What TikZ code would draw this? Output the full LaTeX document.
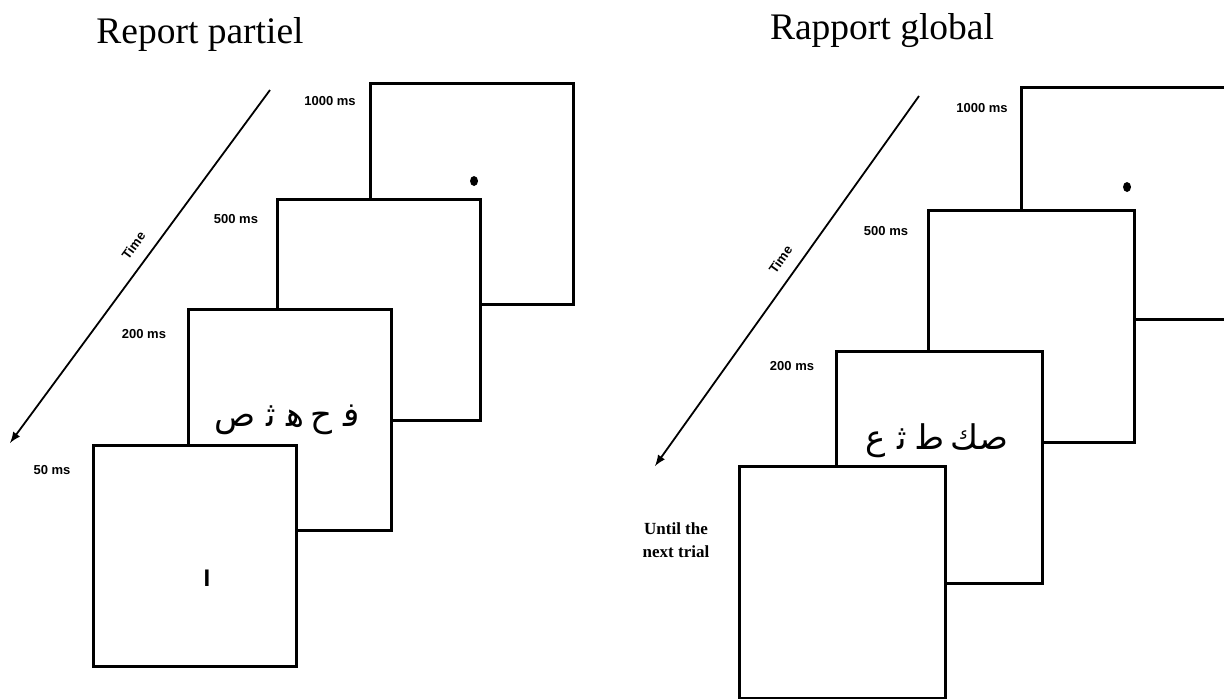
\documentclass[tikz,border=0pt]{standalone}
\usepackage{fontspec}
\setmainfont{Liberation Serif}
\setsansfont{Liberation Sans}
\newfontfamily\arabicfont[Script=Arabic]{DejaVu Sans}
\TeXXeTstate=1
\usetikzlibrary{arrows}
\usetikzlibrary{shapes.geometric}

\tikzset{
  screen/.style={draw, line width=1.5pt, fill=white, anchor=north west,
    inner sep=0pt, minimum width=101.25pt, minimum height=110.5pt},
  bigscreen/.style={screen, minimum width=103pt, minimum height=116pt},
  dur/.style={font=\sffamily\bfseries\fontsize{6.5}{8}\selectfont, inner sep=0pt},
  heading/.style={font=\fontsize{18.75}{22}\selectfont, anchor=base, inner sep=0pt},
  fixdot/.style={ellipse, fill=black, inner sep=0pt, minimum width=4pt, minimum height=5pt},
  timeaxis/.style={-latex, line width=0.9pt},
  letters/.style={font=\arabicfont\fontsize{17}{19}\selectfont, inner sep=0pt},
}
\newcommand{\zj}{^^^^200d}
\newcommand{\gap}{\hspace{3pt}}
\newcommand{\wgap}{\hspace{5.5pt}}

\begin{document}
\begin{tikzpicture}[x=0.5pt, y=-0.5pt]
            \useasboundingbox (0,0) rectangle (1224,698);
            \clip (0,0) rectangle (1224,698);
            % partial report
            \node [heading] (titleL) at (200,43) {Report partiel};
            \coordinate (tL0) at (270,90);
            \coordinate (tL1) at (10,443);
            \draw [timeaxis] (tL0) -- (tL1) node [pos=0.47, sloped, above=6pt, dur] (timeL) {Time};
            \node [screen] (scrA) at (369,82) {};
            \node [screen] (scrB) at (276,198) {};
            \node [screen] (scrC) at (187,308) {};
            \node [screen] (scrD) at (92,444) {};
            \node [fixdot] (dotL) at (474,181) {};
            \node [letters] (letL) at (287,420) {\beginR ف\zj\wgap ح\gap ه\zj\wgap ث\zj\wgap ص\endR};
            \node [font=\sffamily\bfseries\fontsize{12}{13}\selectfont, inner sep=0pt] (cueL) at (207,578) {I};
            \node [dur] (dAL) at (330,101) {1000 ms};
            \node [dur] (dBL) at (236,219) {500 ms};
            \node [dur] (dCL) at (144,334) {200 ms};
            \node [dur] (dDL) at (52,470) {50 ms};
            % global report
            \node [heading] (titleR) at (882,39) {Rapport global};
            \coordinate (tR0) at (919,96);
            \coordinate (tR1) at (655,466);
            \draw [timeaxis] (tR0) -- (tR1) node [pos=0.47, sloped, above=6pt, dur] (timeR) {Time};
            \node [bigscreen] (scrAR) at (1020,86) {};
            \node [bigscreen] (scrBR) at (927,209) {};
            \node [bigscreen] (scrCR) at (835,350) {};
            \node [bigscreen] (scrDR) at (738,465) {};
            \node [fixdot] (dotR) at (1127,187) {};
            \node [letters] (letR) at (937,441) {\beginR صك\gap ط\zj\wgap ث\zj\wgap ع\endR};
            \node [dur] (dAR) at (982,108) {1000 ms};
            \node [dur] (dBR) at (886,231) {500 ms};
            \node [dur] (dCR) at (792,366) {200 ms};
            \node [font=\bfseries\fontsize{8.5}{11.5}\selectfont, align=center, inner sep=0pt] (dDR) at (676,540) {Until the\\next trial};
        \end{tikzpicture}
\end{document}
